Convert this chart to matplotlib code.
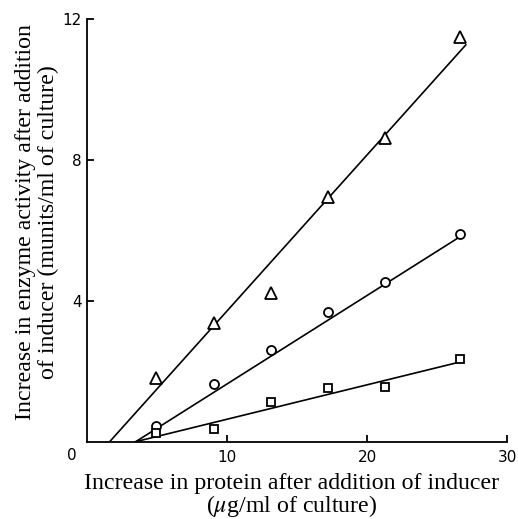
import matplotlib
matplotlib.use("Agg")
import matplotlib.pyplot as plt

# measured points (protein, enzyme activity)
protein = [4.95, 9.1, 13.15, 17.2, 21.25, 26.65]
triangles = [1.80, 3.36, 4.21, 6.96, 8.62, 11.49]
circles = [0.45, 1.64, 2.60, 3.69, 4.53, 5.90]
squares = [0.24, 0.36, 1.14, 1.53, 1.56, 2.35]

# fitted lines: (x start, x end), (y start, y end)
tri_fit = ([1.62, 27.05], [0.0, 11.27])
circ_fit = ([3.48, 26.71], [0.0, 5.84])
sq_fit = ([3.48, 26.70], [0.0, 2.27])

x_ticks = [10, 20, 30]
y_ticks = [4, 8, 12]


def main():
    plt.rcParams["mathtext.fontset"] = "stix"
    fig = plt.figure(figsize=(5.18, 5.19), dpi=100)
    ax = fig.add_axes([0.168, 0.149, 0.811, 0.814])

    for fx, fy in (tri_fit, circ_fit, sq_fit):
        ax.plot(fx, fy, color="black", lw=1.2, zorder=2)

    mk = dict(color="black", ls="none", mfc="white", mec="black", mew=1.3, zorder=3)
    ax.plot(protein, triangles, marker="^", ms=8, **mk)
    ax.plot(protein, circles, marker="o", ms=6.5, **mk)
    ax.plot(protein, squares, marker="s", ms=6, **mk)

    ax.set_xlim(0, 30)
    ax.set_ylim(0, 12)
    ax.spines["top"].set_visible(False)
    ax.spines["right"].set_visible(False)
    ax.spines["left"].set_linewidth(1.3)
    ax.spines["bottom"].set_linewidth(1.3)

    ax.set_xticks(x_ticks)
    ax.set_yticks(y_ticks)
    ax.tick_params(direction="in", length=5, width=1.3, labelsize=11)
    ax.tick_params(axis="x", pad=6)
    ax.tick_params(axis="y", pad=4)
    for lab in ax.get_xticklabels() + ax.get_yticklabels():
        lab.set_fontfamily("DejaVu Sans")
    ax.annotate("0", xy=(0, 0), xytext=(-15, -14), textcoords="offset pixels",
                ha="center", va="center", fontsize=11, family="DejaVu Sans")

    serif = "Liberation Serif"
    ax.set_xlabel("Increase in protein after addition of inducer\n"
                  r"($\mu$g/ml of culture)",
                  fontsize=17.2, family=serif, labelpad=5.5, linespacing=0.95)
    ax.set_ylabel("Increase in enzyme activity after addition\n"
                  "of inducer (munits/ml of culture)",
                  fontsize=17.2, family=serif, labelpad=2.5, linespacing=1.1)
    ax.xaxis.label.set_x(0.488)
    ax.yaxis.label.set_y(0.519)

    fig.savefig("out.png", dpi=100)


if __name__ == "__main__":
    main()
